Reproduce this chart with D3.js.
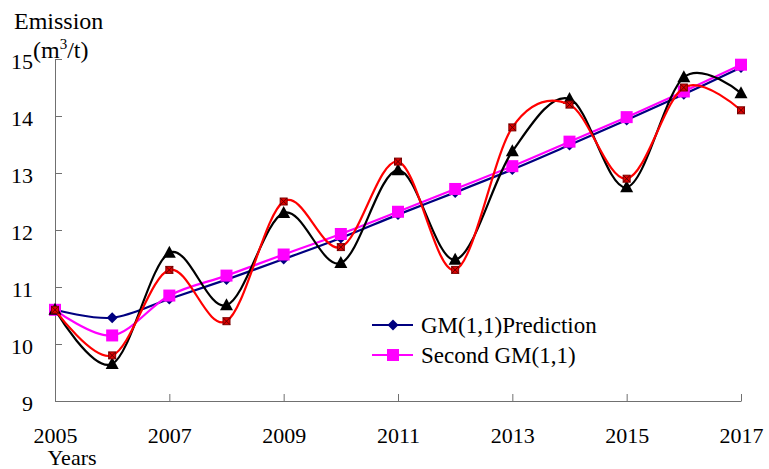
<!DOCTYPE html>
<html>
<head>
<meta charset="utf-8">
<script src="https://cdn.jsdelivr.net/npm/d3@7"></script>
<style>
  html, body { margin: 0; padding: 0; background: #fff; }
  svg text { font-family: "Liberation Serif", "Times New Roman", serif; fill: #000; }
</style>
</head>
<body>
<svg id="chart" width="769" height="469"></svg>
<script>
const years = [2005, 2006, 2007, 2008, 2009, 2010, 2011, 2012, 2013, 2014, 2015, 2016, 2017];
const actual = [10.6, 9.65, 11.6, 10.68, 12.3, 11.42, 13.05, 11.48, 13.38, 14.3, 12.75, 14.68, 14.4];
const redSeries = [10.6, 9.8, 11.3, 10.4, 12.5, 11.7, 13.2, 11.3, 13.8, 14.2, 12.9, 14.5, 14.1];
const gmPrediction = [10.6, 10.46, 10.79, 11.13, 11.49, 11.86, 12.27, 12.66, 13.06, 13.49, 13.93, 14.38, 14.85];
const secondGM = [10.6, 10.15, 10.85, 11.2, 11.57, 11.93, 12.32, 12.72, 13.12, 13.55, 13.98, 14.43, 14.9];
const xTicks = [2005, 2007, 2009, 2011, 2013, 2015, 2017];
const yTicks = [9, 10, 11, 12, 13, 14, 15];
const legendNames = ["GM(1,1)Prediction", "Second GM(1,1)"];

const FONT = "'Liberation Serif', 'Times New Roman', serif";
const svg = d3.select("#chart");
const x = d3.scaleLinear().domain([2005, 2017]).range([55, 741]);
const y = d3.scaleLinear().domain([9, 15]).range([401, 59]);
const axisColor = "#707070";

// axes
const gx = svg.append("g").attr("transform", `translate(0,${y(9)})`)
  .call(d3.axisBottom(x).tickValues(xTicks).tickFormat(d3.format("d")).tickSizeInner(-7).tickSizeOuter(0).tickPadding(26));
gx.attr("font-family", FONT);
gx.select(".domain").attr("stroke", axisColor);
gx.selectAll(".tick line").attr("stroke", axisColor);
gx.selectAll(".tick text").attr("font-size", 22).attr("font-family", FONT).attr("fill", "#000");

const gy = svg.append("g").attr("transform", `translate(${x(2005)},0)`)
  .call(d3.axisLeft(y).tickValues(yTicks).tickFormat(d3.format("d")).tickSizeInner(-7).tickSizeOuter(0).tickPadding(22));
gy.attr("font-family", FONT);
gy.select(".domain").attr("stroke", axisColor);
gy.selectAll(".tick line").attr("stroke", axisColor);
gy.selectAll(".tick text").attr("font-size", 22).attr("font-family", FONT).attr("fill", "#000").attr("dy", "0.45em");

// titles
svg.append("text").attr("x", 14).attr("y", 29).attr("font-size", 24).attr("font-family", FONT).text("Emission");
const unit = svg.append("text").attr("x", 33).attr("y", 58).attr("font-size", 24).attr("font-family", FONT);
unit.append("tspan").text("(m");
unit.append("tspan").attr("dy", -9).attr("font-size", 15).text("3");
unit.append("tspan").attr("dy", 9).text("/t)");
svg.append("text").attr("x", 72).attr("y", 465).attr("font-size", 22).attr("font-family", FONT)
  .attr("text-anchor", "middle").text("Years");

const line = d3.line().x((d, i) => x(years[i])).y(d => y(d)).curve(d3.curveCardinal.tension(0));

const series = [
  { data: gmPrediction, color: "#000080", marker: "diamond" },
  { data: secondGM, color: "#ff00ff", marker: "square" },
  { data: actual, color: "#000000", marker: "triangle" },
  { data: redSeries, color: "#ff0000", marker: "xsquare" }
];

function drawMarker(g, type, cx, cy) {
  if (type === "diamond") {
    g.append("path").attr("d", `M${cx},${cy - 5.5}L${cx + 5.5},${cy}L${cx},${cy + 5.5}L${cx - 5.5},${cy}Z`)
      .attr("fill", "#000080");
  } else if (type === "square") {
    g.append("rect").attr("x", cx - 6).attr("y", cy - 6).attr("width", 12).attr("height", 12)
      .attr("fill", "#ff00ff");
  } else if (type === "triangle") {
    g.append("path").attr("d", `M${cx},${cy - 7}L${cx + 6.5},${cy + 5}L${cx - 6.5},${cy + 5}Z`).attr("fill", "#000");
  } else if (type === "xsquare") {
    g.append("rect").attr("x", cx - 3.5).attr("y", cy - 3.5).attr("width", 7).attr("height", 7)
      .attr("fill", "#e00000").attr("stroke", "#800000").attr("stroke-width", 1);
    g.append("path").attr("d", `M${cx - 3.5},${cy - 3.5}L${cx + 3.5},${cy + 3.5}M${cx + 3.5},${cy - 3.5}L${cx - 3.5},${cy + 3.5}`)
      .attr("stroke", "#600000").attr("stroke-width", 1);
  }
}

series.forEach(s => {
  const g = svg.append("g");
  g.append("path").attr("d", line(s.data)).attr("fill", "none").attr("stroke", s.color).attr("stroke-width", 2.2);
  s.data.forEach((v, i) => drawMarker(g, s.marker, x(years[i]), y(v)));
});

// legend
const legend = svg.append("g");
[{ name: legendNames[0], color: "#000080", marker: "diamond", yy: 325 },
 { name: legendNames[1], color: "#ff00ff", marker: "square", yy: 355 }].forEach(l => {
  legend.append("line").attr("x1", 372).attr("x2", 413).attr("y1", l.yy).attr("y2", l.yy)
    .attr("stroke", l.color).attr("stroke-width", 2.2);
  drawMarker(legend, l.marker, 393, l.yy);
  legend.append("text").attr("x", 421).attr("y", l.yy + 8).attr("font-size", 23).attr("font-family", FONT).text(l.name);
});
</script>
</body>
</html>
